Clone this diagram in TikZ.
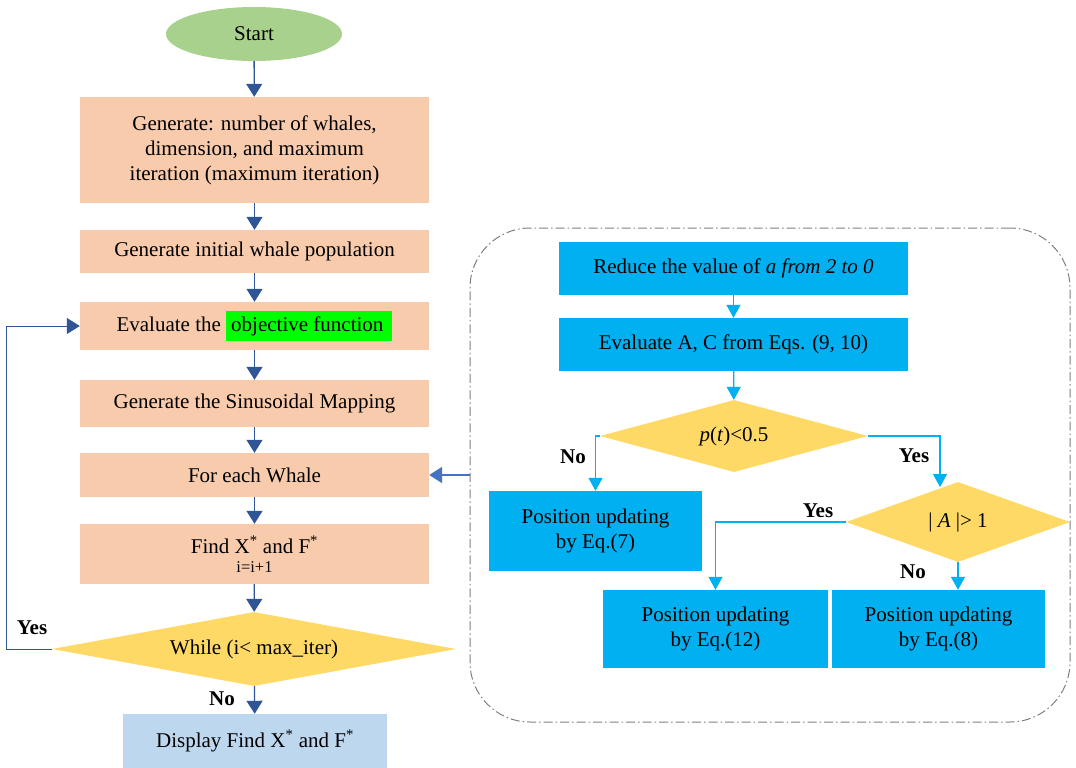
\documentclass[tikz,border=0pt]{standalone}
\usepackage{fontspec}
\setmainfont{Liberation Serif}
\usetikzlibrary{shapes.geometric,arrows.meta}
\definecolor{peach}{HTML}{F8CBAD}
\definecolor{startgreen}{HTML}{A9D18E}
\definecolor{skyblue}{HTML}{00B0F0}
\definecolor{lightblue}{HTML}{BDD7EE}
\definecolor{gold}{HTML}{FFD966}
\definecolor{navy}{HTML}{2F5597}
\definecolor{midblue}{HTML}{4472C4}
\definecolor{framegray}{HTML}{7F7F7F}
\definecolor{hilite}{HTML}{00FF00}

\begin{document}
\begin{tikzpicture}[x=1pt,y=-1pt,
  font=\fontsize{21}{25}\selectfont,
  every node/.style={inner sep=0pt, align=center},
  leftbox/.style={rectangle, fill=peach, minimum width=349pt},
  rightbox/.style={rectangle, fill=skyblue},
  decision/.style={diamond, fill=gold},
  flow/.style={navy, line width=1.3pt, -{Triangle[width=16pt,length=13pt]}},
  subflow/.style={skyblue, line width=1.3pt, -{Triangle[width=14pt,length=13pt]}},
  answer/.style={font=\fontsize{21}{25}\selectfont\bfseries}]
\useasboundingbox (0,0) rectangle (1076,768);

% Main loop (left column)
\node[ellipse, fill=startgreen, minimum width=176pt, minimum height=54pt] (start) at (254,34) {Start};
\node[leftbox, minimum height=106pt] (gen) at (254.5,150) {Generate: number of whales,\\dimension, and maximum\\iteration (maximum iteration)};
\node[leftbox, minimum height=43pt] (init) at (254.5,251.5) {Generate initial whale population};
\node[leftbox, minimum height=48pt] (eval) at (254.5,326) {Evaluate the {\setlength{\fboxsep}{5pt}\colorbox{hilite}{objective function\hspace{4pt}}}};
\node[leftbox, minimum height=47pt] (sinus) at (254.5,403.5) {Generate the Sinusoidal Mapping};
\node[leftbox, minimum height=44pt] (whale) at (254.5,475) {For each Whale};
\node[leftbox, minimum height=60pt] (find) at (254.5,554) {Find X\textsuperscript{*} and F\textsuperscript{*}\\[-6pt]{\fontsize{16.5}{18}\selectfont i=i+1}};
\node[decision, shape aspect=5.4, minimum width=404pt, minimum height=74pt] (while) at (254,649) {While (i< max\_iter)};
\node[rectangle, fill=lightblue, minimum width=264pt, minimum height=54pt] (show) at (255,741) {Display Find X\textsuperscript{*} and F\textsuperscript{*}};

\draw[flow] (start) -- (gen);
\draw[flow] (gen) -- (init);
\draw[flow] (init) -- (eval);
\draw[flow] (eval) -- (sinus);
\draw[flow] (sinus) -- (whale);
\draw[flow] (whale) -- (find);
\draw[flow] (find) -- (while);
\draw[flow] (while) -- (show);
\draw[flow, line width=1pt] (while.west) -- ++(-45,0) |- (eval.west);

\node[answer] (yesloop) at (32,628) {Yes};
\node[answer] (noend) at (222,699) {No};

% Position update (right panel)
\node[draw=framegray, line width=1pt, dash pattern=on 9pt off 3pt on 1.5pt off 3pt, rounded corners=60pt, minimum width=600pt, minimum height=494pt] (inner) at (770,475) {};
\draw[midblue, line width=2pt, -{Triangle[width=16pt,length=13pt]}] (inner.west) -- (whale.east);

\node[rightbox, minimum width=349pt, minimum height=53pt] (reduce) at (733.5,268.5) {Reduce the value of \textit{a from 2 to 0}};
\node[rightbox, minimum width=349pt, minimum height=53pt] (coef) at (733.5,344.5) {Evaluate A, C from Eqs. (9, 10)};
\node[decision, shape aspect=3.7, minimum width=268pt, minimum height=72pt] (prob) at (734,436) {\textit{p}(\textit{t})<0.5};
\node[rightbox, minimum width=213pt, minimum height=80pt] (eq7) at (595.5,531) {Position updating\\by Eq.(7)};
\node[decision, shape aspect=2.8, minimum width=224pt, minimum height=80pt] (absA) at (958,522) {| \textit{A} |> 1};
\node[rightbox, minimum width=225pt, minimum height=78pt] (eq12) at (715.5,629) {Position updating\\by Eq.(12)};
\node[rightbox, minimum width=213pt, minimum height=78pt] (eq8) at (938.5,629) {Position updating\\by Eq.(8)};
\coordinate (yesdrop) at (940,487);

\draw[subflow] (reduce) -- (coef);
\draw[subflow] (coef) -- (prob);
\draw[subflow] (prob.west) -| (eq7.north);
\draw[subflow] (prob.east) -| (yesdrop);
\draw[subflow] (absA.west) -| (eq12.north);
\draw[subflow] (absA.south) -- (absA.south |- eq8.north);

\node[answer] (noprob) at (573,457) {No};
\node[answer] (yesprob) at (914,456) {Yes};
\node[answer] (yesabs) at (818,511) {Yes};
\node[answer] (noabs) at (913,572) {No};
\end{tikzpicture}
\end{document}
